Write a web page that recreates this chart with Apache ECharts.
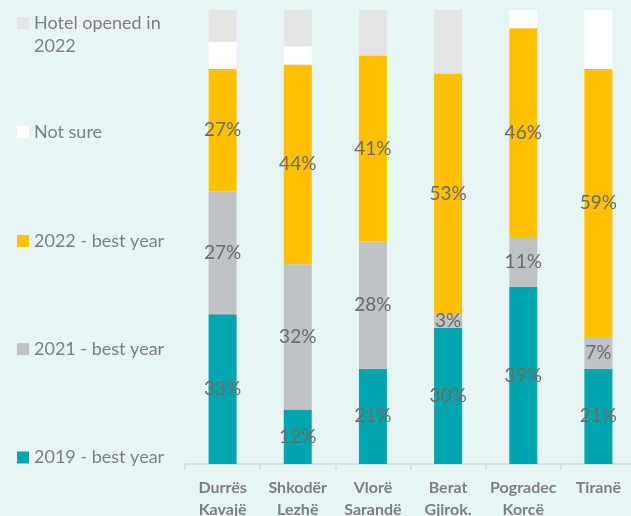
<!DOCTYPE html>
<html>
<head>
<meta charset="utf-8">
<script src="https://cdn.jsdelivr.net/npm/echarts@6/dist/echarts.min.js"></script>
<style>
  html, body { margin: 0; padding: 0; background: #e8f5f6; }
  #chart_id { width: 631px; height: 516px; }
</style>
</head>
<body>
<div id="chart_id"></div>
<script>
const categories = ['Durrës\nKavajë', 'Shkodër\nLezhë', 'Vlorë\nSarandë', 'Berat\nGjirok.', 'Pogradec\nKorcë', 'Tiranë'];
const best2019 = [33, 12, 21, 30, 39, 21];
const best2021 = [27, 32, 28, 3, 11, 7];
const best2022 = [27, 44, 41, 53, 46, 59];
const notSure = [6, 4, 0, 0, 4, 13];
const hotel2022 = [7, 8, 10, 14, 0, 0];

const fontFamily = 'Lato, "Open Sans", sans-serif';
const labelColor = '#6b6b6b';

const myChart = echarts.init(document.getElementById('chart_id'));

// one legend per item so each can sit at its own height
function legendAt(name, top, formatter) {
  return {
    orient: 'vertical',
    left: 17,
    top: top,
    padding: 0,
    icon: 'rect',
    itemWidth: 12,
    itemHeight: 12,
    selectedMode: false,
    data: [name],
    formatter: formatter,
    textStyle: {
      color: '#7f7f7f',
      fontSize: 18,
      fontFamily: fontFamily,
      lineHeight: 23,
    },
  };
}

function barSeries(name, data, color, showLabel) {
  return {
    name: name,
    type: 'bar',
    stack: 'total',
    barWidth: 28,
    data: data,
    itemStyle: { color: color },
    label: {
      show: showLabel,
      position: 'inside',
      color: labelColor,
      fontSize: 19,
      fontFamily: fontFamily,
      formatter: (p) => p.value + '%',
    },
  };
}

const option = {
  backgroundColor: '#e8f5f6',
  animation: false,
  grid: {
    left: 185,
    right: -5,
    top: 10,
    bottom: 52,
    containLabel: false,
    outerBoundsMode: 'none', // labels run off the bottom edge like the original
  },
  legend: [
    // blank first line keeps the marker level with "Hotel opened in"
    legendAt('Hotel opened in 2022', -11.5, () => ' \nHotel opened in\n2022'),
    legendAt('Not sure', 120.5),
    legendAt('2022 - best year', 229.5),
    legendAt('2021 - best year', 337.5),
    legendAt('2019 - best year', 446),
  ],
  xAxis: {
    type: 'category',
    data: categories,
    axisLine: { lineStyle: { color: '#d4d9da', width: 1.5 } },
    axisTick: { show: true, length: 6, lineStyle: { color: '#d4d9da', width: 1.5 } },
    axisLabel: {
      color: '#7f7f7f',
      fontWeight: 'bold',
      fontSize: 16,
      fontFamily: fontFamily,
      lineHeight: 22,
      margin: 13,
      interval: 0,
    },
  },
  yAxis: {
    type: 'value',
    min: 0,
    max: 100,
    show: false,
  },
  series: [
    barSeries('2019 - best year', best2019, '#00a5ad', true),
    barSeries('2021 - best year', best2021, '#bec4c6', true),
    barSeries('2022 - best year', best2022, '#ffc000', true),
    barSeries('Not sure', notSure, '#ffffff', false),
    barSeries('Hotel opened in 2022', hotel2022, '#e4e4e4', false),
  ],
};
myChart.clear();
myChart.setOption(option);
window.onresize = myChart.resize;
</script>
</body>
</html>
